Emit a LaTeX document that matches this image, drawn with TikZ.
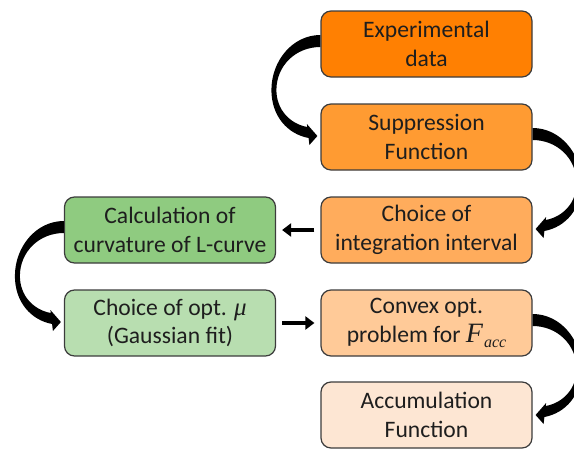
\documentclass[tikz,border=0pt]{standalone}
\usepackage{fontspec}
\setmainfont{Carlito}
\newfontfamily\serifit{Liberation Serif}
\usetikzlibrary{arrows.meta}
\definecolor{cexp}{RGB}{255,128,2}
\definecolor{csup}{RGB}{255,155,50}
\definecolor{cciv}{RGB}{255,172,92}
\definecolor{ccvx}{RGB}{255,202,152}
\definecolor{cacc}{RGB}{253,230,211}
\definecolor{ccalc}{RGB}{143,203,128}
\definecolor{cmu}{RGB}{184,222,176}
\definecolor{bordc}{RGB}{60,60,60}
\definecolor{txtc}{RGB}{30,30,30}
\tikzset{
  box/.style={draw=bordc, line width=1.2pt, rounded corners=10pt,
    minimum width=211pt, minimum height=66pt, align=center, inner sep=0pt,
    font=\fontsize{23.6}{28.5}\selectfont, text=txtc},
  link/.style={line width=3.6pt, -{Triangle[length=9pt,width=13pt]},
    shorten <=6pt, shorten >=6pt}
}
\newcommand{\greekmu}{{\serifit\itshape\fontsize{25}{28.5}\selectfont μ}}
\newcommand{\Facc}{{\serifit\itshape\fontsize{28}{28.5}\selectfont F\kern1pt\raisebox{-5pt}{\fontsize{16}{16}\selectfont acc}}}
% curved block arrow, drawn relative to the source node's side anchor
\newcommand{\bentarrow}[2]{%
  \fill[black, shift={(#1)}, xscale=#2]
    (0,-9) .. controls (-28,-9) and (-49,17) .. (-49,46)
           .. controls (-49,72) and (-33,90) .. (-11.8,94)
    -- (-11,101) -- (-3,92) -- (-13.5,80) -- (-13.1,83)
           .. controls (-30,80) and (-44,66) .. (-44,46)
           .. controls (-44,22) and (-25,3) .. (0,3) -- cycle;}
\begin{document}
\begin{tikzpicture}[x=1pt,y=-1pt]
\useasboundingbox (0,0) rectangle (574,448);
\clip (0,0) rectangle (574,448);
\node[box, fill=cexp] (exp) at (426.5,44) {Experimental\\data};
\node[box, fill=csup] (sup) at (426.5,137) {Suppression\\Function};
\node[box, fill=cciv] (civ) at (426.5,230) {Choice of\\integration interval};
\node[box, fill=ccvx] (cvx) at (426.5,323) {Convex opt.\\problem for \Facc};
\node[box, fill=cacc] (acc) at (426.5,415) {Accumulation\\Function};
\node[box, fill=ccalc] (calc) at (170,230) {Calculation of\\curvature of L-curve};
\node[box, fill=cmu] (mu) at (170,323) {Choice of opt. \greekmu\\(Gaussian fit)};
\bentarrow{exp.west}{1}
\bentarrow{sup.east}{-1}
\bentarrow{calc.west}{1}
\bentarrow{cvx.east}{-1}
\draw[link] (civ.west) -- (calc.east);
\draw[link] (mu.east) -- (cvx.west);
\end{tikzpicture}
\end{document}
